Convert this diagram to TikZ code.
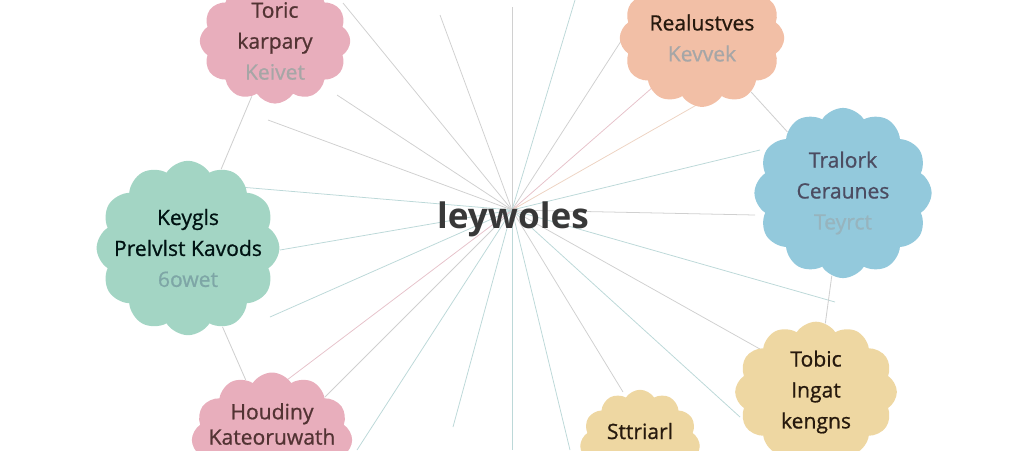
\documentclass[tikz,border=0pt]{standalone}
\usepackage{fontspec}
\setmainfont{Open Sans}
\newfontfamily\puffont{Open Sans}[FakeBold=0.8]
\usetikzlibrary{shapes.symbols,calc}

\definecolor{rosy}{HTML}{E8AEBC}
\definecolor{peach}{HTML}{F2BFA6}
\definecolor{mint}{HTML}{A3D5C4}
\definecolor{sky}{HTML}{93C9DC}
\definecolor{sand}{HTML}{EED7A2}
\definecolor{raygray}{HTML}{D0D0D0}
\definecolor{rayteal}{HTML}{BCD8D8}
\definecolor{raypink}{HTML}{E6C2CA}
\definecolor{raypeach}{HTML}{EDD3C2}

\begin{document}
\begin{tikzpicture}[x=0.025cm,y=-0.025cm,
  ray/.style={line width=.55pt},
  link/.style={draw=raygray,line width=.6pt},
  bubble/.style={cloud,cloud puffs=12,cloud puff arc=115,aspect=1,inner sep=0pt},
  words/.style={align=center,font=\puffont\fontsize{15}{22}\selectfont,text=#1}]
\useasboundingbox (0,0) rectangle (1024,450);
\clip (0,0) rectangle (1024,450);
\coordinate (hub) at (512,210);
% rays from the middle
\foreach \x/\y/\c [count=\i] in {343/3/raygray,440/15/raygray,512/7/raygray,575/0/rayteal,
  623/38/raygray,653/87/raypink,700/103/raypeach,760/150/rayteal,755/215/raygray,
  835/302/rayteal,767/353/raygray,740/417/rayteal,623/392/raygray,570/450/rayteal,
  512/450/rayteal,453/427/rayteal,357/450/rayteal,325/397/raygray,287/380/raypink,
  270/317/rayteal,280/250/rayteal,240/187/rayteal,268/120/raygray,337/95/raygray}{
  \coordinate (r\i) at (\x,\y);
  \draw[ray,\c] (hub) -- (r\i);
}
% clouds
\node[bubble,fill=rosy,minimum width=107,minimum height=89] (tl) at (275,41) {};
\node[words=black!80!red!60!gray] at (tl) {Toric\\karpary\\{\color{black!35}Keivet}};
\node[bubble,fill=peach,minimum width=117,minimum height=98] (tr) at (702,38) {};
\node[words=black!80!brown] at (tr) {Realustves\\{\color{black!35}Kevvek}};
\node[bubble,fill=mint,minimum width=130,minimum height=124] (lk) at (188,248) {};
\node[words=black!85!teal] at (lk) {Keygls\\Prelvlst Kavods\\{\color{teal!45!gray!70}6owet}};
\node[bubble,fill=sky,minimum width=126,minimum height=121] (rt) at (843,193) {};
\node[words=black!80!blue!40!gray] at (rt) {Tralork\\Ceraunes\\{\color{sky!60!gray!90}Teyrct}};
\node[bubble,fill=rosy,minimum width=114,minimum height=96] (bl) at (272,440) {};
\node[words=black!80!red!60!gray,font=\puffont\fontsize{15}{18}\selectfont] at (272,424) {Houdiny\\Kateoruwath};
\node[bubble,fill=sand,minimum width=85,minimum height=80] (bm) at (640,446) {};
\node[words=black!80!brown,anchor=base] at (640,439) {Sttriarl};
\node[bubble,fill=sand,minimum width=115,minimum height=100] (br) at (816,392) {};
\node[words=black!80!brown] at (br) {Tobic\\Ingat\\kengns};
% links between clouds
\draw[link] (tl) -- (lk);
\draw[link] (lk) -- (bl);
\draw[link] (tr) -- (rt);
\draw[link] (rt) -- (br);
\node[font=\fontsize{25}{30}\selectfont\bfseries,text=black!78,anchor=base] (key) at (513,228) {leywoles};
\end{tikzpicture}
\end{document}
